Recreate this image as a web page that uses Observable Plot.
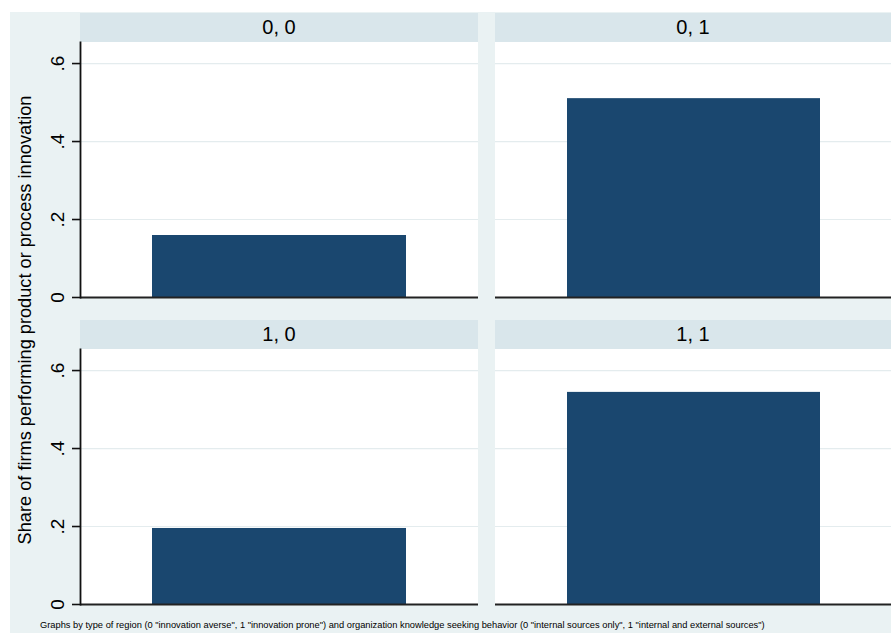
<!DOCTYPE html>
<html>
<head>
<meta charset="utf-8">
<script src="https://cdn.jsdelivr.net/npm/d3@7"></script>
<script src="https://cdn.jsdelivr.net/npm/@observablehq/plot@0.6"></script>
<style>
  html, body { margin: 0; padding: 0; background: #ffffff; }
  #chart { position: relative; width: 891px; height: 633px; overflow: hidden; font-family: "Liberation Sans", Arial, sans-serif; }
  #bg { position: absolute; left: 10px; top: 12px; right: 0; bottom: 0; background: #EAF2F3; }
  .strip { position: absolute; height: 29px; background: #D9E6EB; color: #000; font-size: 20px; line-height: 29px; text-align: center; }
  .panel { position: absolute; }
  .panel svg { overflow: visible; }
  #ytitle { position: absolute; left: 25px; top: 320px; transform: translate(-50%, -50%) rotate(-90deg); white-space: nowrap; font-size: 18.2px; color: #000; }
  #caption { position: absolute; left: 40px; top: 620px; font-size: 9.3px; white-space: nowrap; color: #000; }
</style>
</head>
<body>
<div id="chart"><div id="bg"></div></div>
<script>
// Data
const regionTypes = ["0", "1"];            // type of region
const knowledgeTypes = ["0", "1"];         // knowledge seeking behavior
const shareValues = [0.159, 0.510, 0.195, 0.544]; // order: (0,0), (0,1), (1,0), (1,1)
const yTicks = [0, 0.2, 0.4, 0.6];
const yTickLabels = ["0", ".2", ".4", ".6"];
const yTitle = "Share of firms performing product or process innovation";
const caption = 'Graphs by type of region (0 "innovation averse", 1 "innovation prone") and organization knowledge seeking behavior (0 "internal sources only", 1 "internal and external sources")';

const chart = document.getElementById("chart");
const barColor = "#1A476F";

const stripTops = [13, 320];
const colLeft = [80, 495];
const colWidth = [398, 396];
const plotH = 255;

let i = 0;
regionTypes.forEach((r, ri) => {
  knowledgeTypes.forEach((k, ki) => {
    const value = shareValues[i++];
    const data = [{group: "bar", value}];
    const stripTop = stripTops[ri];
    const left = colLeft[ki];
    const w = colWidth[ki];

    const strip = document.createElement("div");
    strip.className = "strip";
    strip.style.left = left + "px";
    strip.style.top = stripTop + "px";
    strip.style.width = w + "px";
    strip.textContent = `${r}, ${k}`;
    chart.appendChild(strip);

    const isLeft = ki === 0;
    const marginLeft = isLeft ? 70 : 0;
    const svgLeft = left - marginLeft;
    const marks = [
      Plot.ruleY(yTicks.filter(d => d > 0), {stroke: "#E4ECEE", strokeWidth: 1.2}),
      Plot.barY(data, {x: "group", y: "value", fill: barColor}),
      Plot.ruleY([0], {stroke: "#222", strokeWidth: 1.8})
    ];
    if (isLeft) {
      marks.push(Plot.axisY(yTicks, {
        tickFormat: (d) => yTickLabels[yTicks.indexOf(d)],
        tickSize: 8, tickPadding: 9, tickRotate: -90,
        fontSize: 19, fill: "#000", stroke: "#111", strokeWidth: 1.6, label: null
      }));
      marks.push(Plot.frame({anchor: "left", stroke: "#111", strokeWidth: 1.8}));
    }
    const p = Plot.plot({
      width: w + marginLeft,
      height: plotH + 6,
      marginLeft,
      marginRight: 0,
      marginTop: 0,
      marginBottom: 6,
      style: {background: "transparent", fontFamily: "Liberation Sans, Arial, sans-serif"},
      x: {type: "band", padding: 0.2195, axis: null},
      y: {domain: [0, 0.654], axis: null},
      marks
    });
    const bgw = document.createElement("div");
    bgw.style.position = "absolute";
    bgw.style.left = left + "px";
    bgw.style.top = (stripTop + 29) + "px";
    bgw.style.width = w + "px";
    bgw.style.height = plotH + "px";
    bgw.style.background = "#fff";
    chart.appendChild(bgw);
    const holder = document.createElement("div");
    holder.className = "panel";
    holder.style.left = svgLeft + "px";
    holder.style.top = (stripTop + 29) + "px";
    holder.appendChild(p);
    chart.appendChild(holder);
  });
});

const t = document.createElement("div");
t.id = "ytitle"; t.textContent = yTitle; chart.appendChild(t);
const c = document.createElement("div");
c.id = "caption"; c.textContent = caption; chart.appendChild(c);
</script>
</body>
</html>
